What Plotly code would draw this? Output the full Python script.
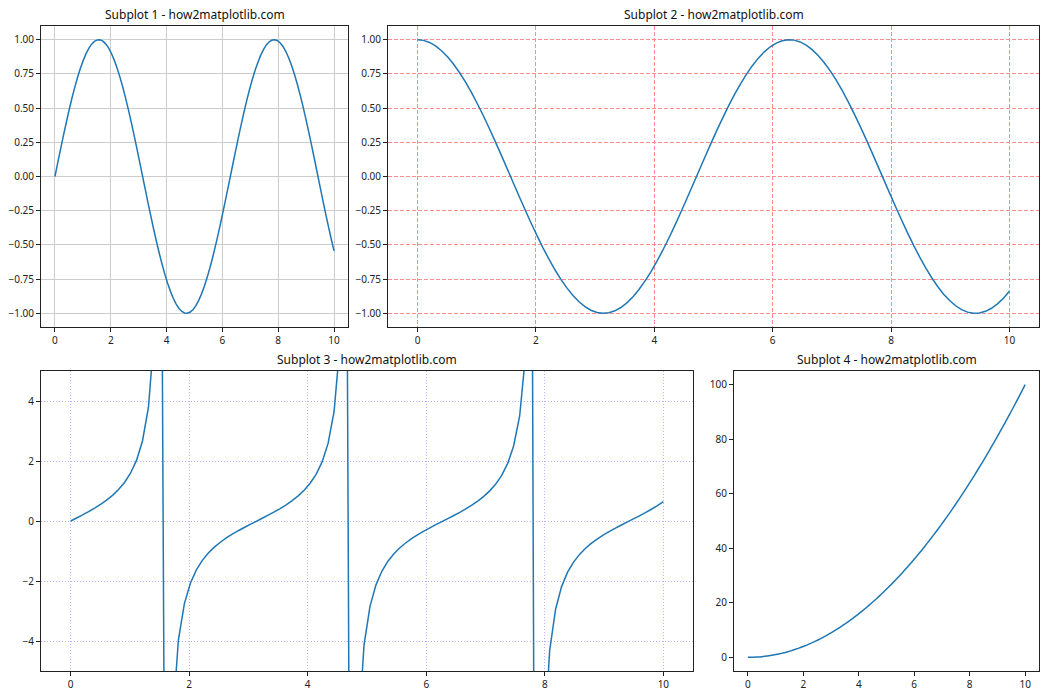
import plotly.graph_objects as go

x_vals = [0.0, 0.101, 0.202, 0.303, 0.404, 0.5051, 0.6061, 0.7071, 0.8081, 0.9091,
          1.0101, 1.1111, 1.2121, 1.3131, 1.4141, 1.5152, 1.6162, 1.7172, 1.8182, 1.9192,
          2.0202, 2.1212, 2.2222, 2.3232, 2.4242, 2.5253, 2.6263, 2.7273, 2.8283, 2.9293,
          3.0303, 3.1313, 3.2323, 3.3333, 3.4343, 3.5354, 3.6364, 3.7374, 3.8384, 3.9394,
          4.0404, 4.1414, 4.2424, 4.3434, 4.4444, 4.5455, 4.6465, 4.7475, 4.8485, 4.9495,
          5.0505, 5.1515, 5.2525, 5.3535, 5.4545, 5.5556, 5.6566, 5.7576, 5.8586, 5.9596,
          6.0606, 6.1616, 6.2626, 6.3636, 6.4646, 6.5657, 6.6667, 6.7677, 6.8687, 6.9697,
          7.0707, 7.1717, 7.2727, 7.3737, 7.4747, 7.5758, 7.6768, 7.7778, 7.8788, 7.9798,
          8.0808, 8.1818, 8.2828, 8.3838, 8.4848, 8.5859, 8.6869, 8.7879, 8.8889, 8.9899,
          9.0909, 9.1919, 9.2929, 9.3939, 9.4949, 9.596, 9.697, 9.798, 9.899, 10.0]

sine_vals = [0.0, 0.1008, 0.2007, 0.2984, 0.3931, 0.4839, 0.5697, 0.6496, 0.723, 0.7889,
             0.8469, 0.8962, 0.9364, 0.967, 0.9878, 0.9985, 0.999, 0.9893, 0.9696, 0.9399,
             0.9007, 0.8523, 0.7952, 0.7301, 0.6574, 0.578, 0.4928, 0.4025, 0.3082, 0.2107,
             0.1111, 0.0103, -0.0906, -0.1905, -0.2885, -0.3837, -0.4749, -0.5612, -0.6418, -0.7158,
             -0.7826, -0.8414, -0.8916, -0.9327, -0.9643, -0.9861, -0.9978, -0.9994, -0.9908, -0.972,
             -0.9434, -0.9051, -0.8577, -0.8014, -0.7371, -0.6651, -0.5864, -0.5017, -0.412, -0.318,
             -0.2208, -0.1213, -0.0206, 0.0803, 0.1804, 0.2788, 0.3742, 0.4658, 0.5526, 0.6338,
             0.7086, 0.7761, 0.8358, 0.8869, 0.9289, 0.9616, 0.9843, 0.9971, 0.9997, 0.9921,
             0.9744, 0.9468, 0.9095, 0.8629, 0.8076, 0.7439, 0.6729, 0.5945, 0.5106, 0.4213,
             0.3277, 0.2308, 0.1315, 0.0309, -0.07, -0.1704, -0.2689, -0.3646, -0.4566, -0.544]

cosine_vals = [1.0, 0.9949, 0.9797, 0.9544, 0.9195, 0.8751, 0.8219, 0.7603, 0.6909, 0.6147,
               0.5318, 0.4437, 0.3511, 0.2549, 0.1561, 0.0556, -0.0454, -0.1459, -0.2449, -0.3414,
               -0.4344, -0.523, -0.6063, -0.6835, -0.7535, -0.816, -0.8701, -0.9154, -0.9513, -0.9775,
               -0.9938, -0.9999, -0.9959, -0.9817, -0.9575, -0.9235, -0.8801, -0.8277, -0.7669, -0.6983,
               -0.6226, -0.5406, -0.4529, -0.3607, -0.2648, -0.1661, -0.0659, 0.0351, 0.1357, 0.2349,
               0.3317, 0.4251, 0.5142, 0.5981, 0.6759, 0.7468, 0.81, 0.865, 0.9112, 0.9481,
               0.9753, 0.9926, 0.9998, 0.9968, 0.9836, 0.9604, 0.9274, 0.8849, 0.8334, 0.7735,
               0.7056, 0.6306, 0.5491, 0.462, 0.3703, 0.2746, 0.1763, 0.0761, -0.0248, -0.1255,
               -0.2249, -0.322, -0.4158, -0.5054, -0.5898, -0.6683, -0.7399, -0.804, -0.8598, -0.9069,
               -0.9448, -0.973, -0.9913, -0.9995, -0.9975, -0.9854, -0.9632, -0.9312, -0.8897, -0.8391]

tangent_vals = [0.0, 0.1013, 0.2049, 0.3127, 0.4275, 0.553, 0.6932, 0.8544, 1.0465, 1.2834,
                1.5925, 2.0198, 2.6671, 3.7936, 6.328, 17.96, -22.0, -6.781, -3.959, -2.753,
                -2.073, -1.63, -1.312, -1.068, -0.8725, -0.7083, -0.5664, -0.4397, -0.324, -0.2156,
                -0.1118, -0.0103, 0.091, 0.1941, 0.3013, 0.4155, 0.5396, 0.678, 0.8369, 1.0251,
                1.257, 1.5564, 1.9686, 2.5858, 3.6416, 5.937, 15.14, -28.47, -7.301, -4.138,
                -2.844, -2.129, -1.668, -1.34, -1.0905, -0.8906, -0.724, -0.58, -0.4521, -0.3354,
                -0.2264, -0.1222, -0.0206, 0.0806, 0.1834, 0.2903, 0.4035, 0.5264, 0.6631, 0.8194,
                1.0043, 1.2307, 1.5221, 1.9197, 2.5085, 3.5018, 5.583, 13.1, -40.31, -7.905,
                -4.333, -2.94, -2.187, -1.707, -1.369, -1.113, -0.9094, -0.7394, -0.5939, -0.4645,
                -0.3468, -0.2372, -0.1327, -0.0309, 0.0702, 0.1729, 0.2792, 0.3915, 0.5132, 0.6483]

square_vals = [0.0, 0.0102, 0.0408, 0.0918, 0.1632, 0.2551, 0.3673, 0.4999, 0.653, 0.8264,
               1.0203, 1.2346, 1.4692, 1.7243, 1.9998, 2.2957, 2.612, 2.9487, 3.3058, 3.6833,
               4.0812, 4.4995, 4.9383, 5.3974, 5.877, 6.3769, 6.8973, 7.438, 7.9992, 8.5808,
               9.1827, 9.8051, 10.448, 11.111, 11.795, 12.499, 13.223, 13.968, 14.733, 15.519,
               16.325, 17.151, 17.998, 18.865, 19.753, 20.661, 21.59, 22.538, 23.508, 24.497,
               25.507, 26.538, 27.589, 28.66, 29.752, 30.864, 31.997, 33.15, 34.323, 35.517,
               36.731, 37.965, 39.22, 40.496, 41.791, 43.108, 44.444, 45.801, 47.179, 48.577,
               49.995, 51.434, 52.893, 54.372, 55.872, 57.392, 58.933, 60.494, 62.075, 63.677,
               65.299, 66.942, 68.605, 70.289, 71.993, 73.717, 75.462, 77.227, 79.012, 80.818,
               82.645, 84.491, 86.358, 88.246, 90.154, 92.083, 94.031, 96.0, 97.99, 100.0]

titles = ["Subplot 1 - how2matplotlib.com", "Subplot 2 - how2matplotlib.com",
          "Subplot 3 - how2matplotlib.com", "Subplot 4 - how2matplotlib.com"]

x_ticks = [0, 2, 4, 6, 8, 10]
trig_ticks = [-1.0, -0.75, -0.5, -0.25, 0.0, 0.25, 0.5, 0.75, 1.0]
tan_ticks = [-4, -2, 0, 2, 4]
square_ticks = [0, 20, 40, 60, 80, 100]

W, H = 1050, 700
LINE = "#1f77b4"
FONT = "Noto Sans"


def px_x(a, b):
    return [a / W, b / W]


def px_y(top, bottom):
    return [1 - bottom / H, 1 - top / H]


domains = [
    (px_x(41, 348), px_y(26, 327)),
    (px_x(388, 1039), px_y(26, 327)),
    (px_x(41, 693), px_y(371, 671)),
    (px_x(734, 1039), px_y(371, 671)),
]

fig = go.Figure()
series = [sine_vals, cosine_vals, tangent_vals, square_vals]
for i, ys in enumerate(series):
    sfx = "" if i == 0 else str(i + 1)
    fig.add_trace(go.Scatter(x=x_vals, y=ys, mode="lines",
                             line=dict(color=LINE, width=1.5, simplify=False),
                             xaxis="x" + sfx, yaxis="y" + sfx,
                             showlegend=False, hoverinfo="skip"))

common = dict(showline=True, linecolor="#222222", linewidth=1, mirror=True,
              ticks="outside", ticklen=4, tickwidth=1, tickcolor="#222222",
              zeroline=False, tickfont=dict(family=FONT, size=10, color="#222222"))

grid_styles = [
    dict(showgrid=True, gridcolor="#cccccc", gridwidth=0.8),
    dict(showgrid=True, gridcolor="#ff8c8c", gridwidth=0.8, griddash="4px,2px"),
    dict(showgrid=True, gridcolor="#b4b4f8", gridwidth=0.8, griddash="1px,2px"),
    dict(showgrid=False),
]
y_ranges = [[-1.1, 1.1], [-1.1, 1.1], [-5, 5], [-5, 105]]
y_tickvals = [trig_ticks, trig_ticks, tan_ticks, square_ticks]
y_formats = [".2f", ".2f", "d", "d"]

layout = dict(width=W, height=H, margin=dict(l=0, r=0, t=0, b=0),
              paper_bgcolor="white", plot_bgcolor="white", showlegend=False)
for i in range(4):
    sfx = "" if i == 0 else str(i + 1)
    xd, yd = domains[i]
    layout["xaxis" + sfx] = dict(domain=xd, anchor="y" + sfx, range=[-0.5, 10.5],
                                 tickvals=x_ticks, **common, **grid_styles[i])
    layout["yaxis" + sfx] = dict(domain=yd, anchor="x" + sfx, range=y_ranges[i],
                                 tickvals=y_tickvals[i], tickformat=y_formats[i],
                                 **common, **grid_styles[i])

annotations = []
for i in range(4):
    xd, yd = domains[i]
    annotations.append(dict(text=titles[i], xref="paper", yref="paper",
                            x=(xd[0] + xd[1]) / 2, y=yd[1] + 1 / H,
                            xanchor="center", yanchor="bottom", showarrow=False,
                            font=dict(family=FONT, size=12, color="#111111")))
layout["annotations"] = annotations
fig.update_layout(**layout)
fig.write_html("out.html")
